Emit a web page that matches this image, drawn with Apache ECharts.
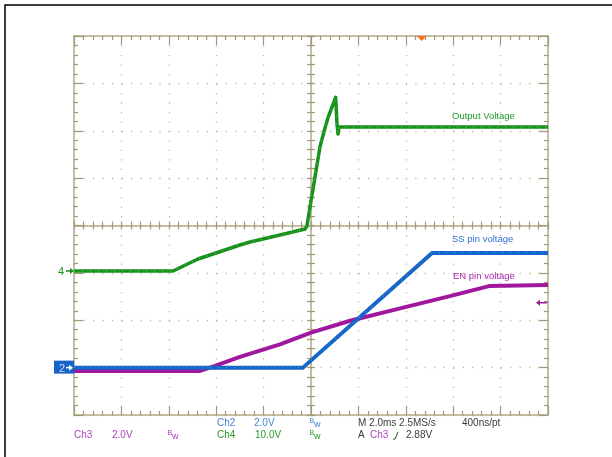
<!DOCTYPE html>
<html><head><meta charset="utf-8">
<script src="https://cdn.jsdelivr.net/npm/echarts@6/dist/echarts.min.js"></script>
<style>html,body{margin:0;padding:0;background:#fff;}#c{width:612px;height:457px;}</style>
</head><body><div id="c"></div>
<script>
// Time in ms relative to screen centre (2.0 ms/div)
const ch4Time = [-10, -5.82, -4.77, -3.0, -2.57, -1.31, -0.25, -0.17, -0.04, 0.17, 0.38, 0.59, 0.73, 1.04, 1.10, 1.14, 1.18, 10];
const ch4Volt = [0, 0, 2.53, 5.49, 6.12, 7.59, 8.86, 9.49, 13.57, 19.89, 26.22, 30.17, 32.55, 36.65, 30.8, 28.9, 30.38, 30.38];
const ch2Time = [-10, -0.34, 5.11, 10];
const ch2Volt = [0, 0, 4.84, 4.84];
const ch3Time = [-10, -4.68, -4.05, -3.0, -1.31, 0, 1.65, 3.76, 5.86, 7.55, 10];
const ch3Volt = [0, 0, 0.21, 0.59, 1.12, 1.62, 2.12, 2.64, 3.16, 3.59, 3.63];
// Channel settings: volts/div and ground offset (div)
const ch4Scale = 10, ch4Offset = -0.96;
const ch2Scale = 2, ch2Offset = -3;
const ch3Scale = 2, ch3Offset = -3.07;
const triggerLevel = 2.88;
const triggerTime = 4.67;
const traceLabels = ['Output Voltage', 'SS pin voltage', 'EN pin voltage'];

const C_LINE = '#b0a886', C_TICK = '#a29a72', C_DOT = '#bdb698';
const GREEN = '#16911b', BLUE = '#1665c8', MAG = '#a0189e';
const FONT = "'Liberation Sans', Arial, sans-serif";

function xAx(pos, offset, inside, showLine, split, majorLen) {
  return { type: 'value', min: -10, max: 10, interval: 2, position: pos, offset: offset,
    axisLine: { show: showLine, onZero: false, lineStyle: { color: C_LINE, width: 1.5 } },
    axisTick: { show: true, inside: inside, length: majorLen, lineStyle: { color: C_TICK, width: 1.2 } },
    minorTick: { show: true, splitNumber: 5, length: 4, lineStyle: { color: C_TICK, width: 1.2 } },
    axisLabel: { show: false },
    splitLine: { show: split, lineStyle: { color: C_DOT, type: [1.3, 8.18], width: 1.3 } } };
}
function yAx(pos, offset, inside, showLine, split, majorLen) {
  return { type: 'value', min: -4, max: 4, interval: 1, position: pos, offset: offset,
    axisLine: { show: showLine, onZero: false, lineStyle: { color: C_LINE, width: 1.5 } },
    axisTick: { show: true, inside: inside, length: majorLen, lineStyle: { color: C_TICK, width: 1.2 } },
    minorTick: { show: true, splitNumber: 5, length: 4, lineStyle: { color: C_TICK, width: 1.2 } },
    axisLabel: { show: false },
    splitLine: { show: split, lineStyle: { color: C_DOT, type: [1.3, 8.18], width: 1.3 } } };
}
function toData(time, volt, scale, off) { return time.map((t, i) => [t, off + volt[i] / scale]); }
function trace(name, data, color, width, z) {
  return { type: 'line', name: name, data: data, showSymbol: false, symbol: 'none', silent: true,
    lineStyle: { color: color, width: width, join: 'round' }, z: z };
}
function speck(name, data, color, z) {
  return { type: 'line', name: name, data: data, showSymbol: false, symbol: 'none', silent: true,
    lineStyle: { color: color, width: 1, type: [1, 7], opacity: 0.8 }, z: z };
}

const d4 = toData(ch4Time, ch4Volt, ch4Scale, ch4Offset);
const d2 = toData(ch2Time, ch2Volt, ch2Scale, ch2Offset);
const d3 = toData(ch3Time, ch3Volt, ch3Scale, ch3Offset);

const chart = echarts.init(document.getElementById('c'), null, { renderer: 'canvas' });
const GL = 74, GT = 36, GW = 474, GH = 379;
chart.setOption({
  animation: false,
  backgroundColor: '#ffffff',
  grid: { left: GL, top: GT, width: GW, height: GH, containLabel: false, outerBoundsMode: 'none' },
  xAxis: [
    xAx('bottom', 0, true, true, true, 9),
    xAx('top', 0, true, true, false, 9),
    xAx('bottom', -GH / 2, true, true, false, 4),
    xAx('bottom', -GH / 2, false, false, false, 4)
  ],
  yAxis: [
    yAx('left', 0, true, true, true, 9),
    yAx('right', 0, true, true, false, 9),
    yAx('left', -GW / 2, true, true, false, 4),
    yAx('left', -GW / 2, false, false, false, 4)
  ],
  series: [
    trace('Ch3', d3, MAG, 4, 3),
    trace('Ch4', d4, GREEN, 3.5, 3),
    speck('Ch4 noise', d4, '#6fe06f', 4),
    trace('Ch2', d2, BLUE, 4, 5),
    speck('Ch2 noise', d2, '#2ec8ea', 6)
  ]
});

function px(t, y) { return chart.convertToPixel({ gridIndex: 0 }, [t, y]); }
function txt(x, y, s, color, size) {
  return { type: 'text', x: x, y: y, z: 100, style: { text: s, fill: color, font: size + 'px ' + FONT,
    align: 'left', verticalAlign: 'middle', textAlign: 'left', textVerticalAlign: 'middle' } };
}
function bw(x, y, color) {
  return [txt(x, y - 2, 'B', color, 7), txt(x + 4.5, y + 1, 'w', color, 9)];
}
const g4 = px(-10, ch4Offset)[1];
const g2 = px(-10, ch2Offset)[1];
const trigY = px(10, ch3Offset + triggerLevel / ch3Scale)[1];
const trigX = px(triggerTime, 4)[0];
const right = GL + GW;
const els = [
  { type: 'polyline', z: 100, shape: { points: [[5, 457], [5, 5], [612, 5]] }, style: { stroke: '#000', lineWidth: 1.5, fill: null } },
  // trigger position marker
  { type: 'polygon', z: 100, shape: { points: [[trigX - 5, GT], [trigX + 5, GT], [trigX, GT + 5]] }, style: { fill: '#ff6d1f' } },
  // Ch4 ground marker
  txt(58, g4 + 1, '4', GREEN, 11),
  { type: 'polyline', z: 100, shape: { points: [[66, g4], [73, g4]] }, style: { stroke: GREEN, lineWidth: 1.5, fill: null } },
  { type: 'polygon', z: 100, shape: { points: [[70, g4 - 3], [74, g4], [70, g4 + 3]] }, style: { fill: GREEN } },
  // Ch2 ground marker
  { type: 'rect', z: 100, shape: { x: 54, y: g2 - 7, width: 20, height: 13 }, style: { fill: BLUE } },
  txt(59, g2 + 1, '2', '#d8d0f4', 11),
  { type: 'polyline', z: 101, shape: { points: [[66, g2], [72, g2]] }, style: { stroke: '#ffffff', lineWidth: 1.5, fill: null } },
  { type: 'polygon', z: 101, shape: { points: [[69, g2 - 3], [73, g2], [69, g2 + 3]] }, style: { fill: '#ffffff' } },
  // Ch3 trigger level arrow
  { type: 'polyline', z: 100, shape: { points: [[right - 1, trigY], [right - 11, trigY]] }, style: { stroke: MAG, lineWidth: 1.5, fill: null } },
  { type: 'polygon', z: 100, shape: { points: [[right - 8, trigY - 3], [right - 12, trigY], [right - 8, trigY + 3]] }, style: { fill: MAG } },
  // trace labels
  txt(452, 116, traceLabels[0], '#1f9a24', 9.5),
  txt(452, 239.5, traceLabels[1], '#2e6fd3', 9.5),
  txt(453, 276, traceLabels[2], '#a424ac', 9.5),
  // status lines
  txt(217, 423.5, 'Ch2', '#4a80d8', 10),
  txt(254, 423.5, '2.0V', '#4a80d8', 10),
  ...bw(309.5, 423.5, '#4a80d8'),
  txt(358, 423.5, 'M 2.0ms 2.5MS/s', '#3c3c3c', 10),
  txt(462, 423.5, '400ns/pt', '#3c3c3c', 10),
  txt(74, 435.5, 'Ch3', '#b040c0', 10),
  txt(112, 435.5, '2.0V', '#b040c0', 10),
  ...bw(167.5, 435.5, '#b040c0'),
  txt(217, 435.5, 'Ch4', '#2a962a', 10),
  txt(255, 435.5, '10.0V', '#2a962a', 10),
  ...bw(309.5, 435.5, '#2a962a'),
  txt(358, 435.5, 'A', '#3c3c3c', 10),
  txt(370, 435.5, 'Ch3', '#b040c0', 10),
  { type: 'polyline', z: 100, shape: { points: [[393, 439], [395, 439], [398, 432]] }, style: { stroke: '#3c3c3c', lineWidth: 1, fill: null } },
  txt(406, 435.5, '2.88V', '#3c3c3c', 10)
];
chart.setOption({ graphic: { elements: els } });
</script></body></html>
